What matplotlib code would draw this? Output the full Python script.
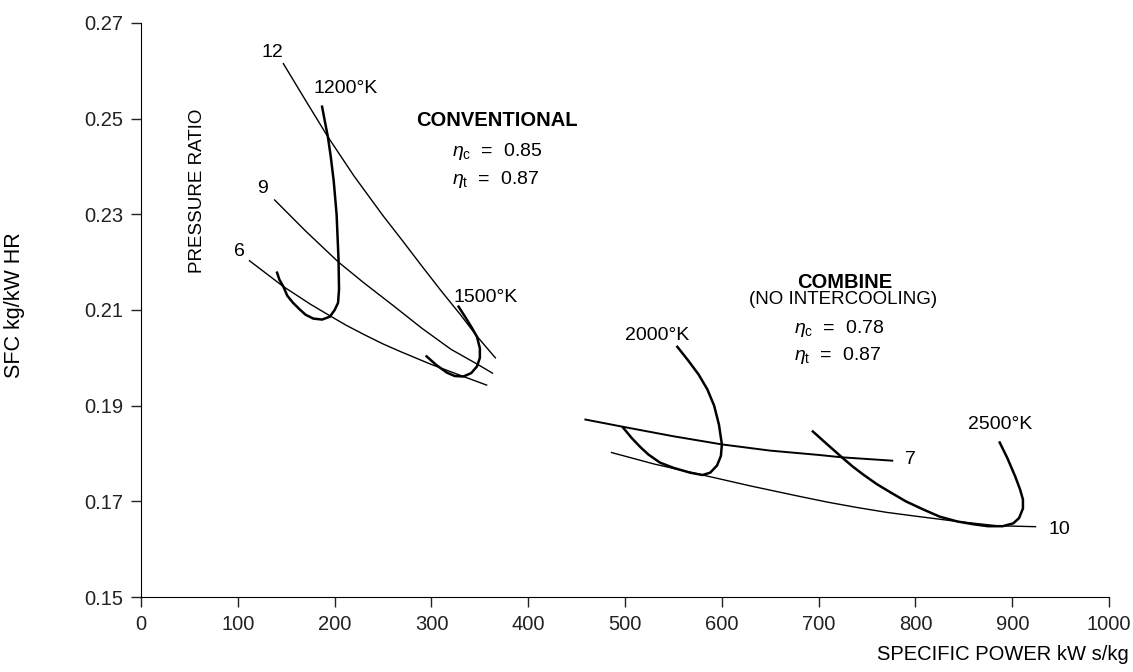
import matplotlib
matplotlib.use('Agg')
import matplotlib.pyplot as plt

plt.rcParams['font.family'] = ['Liberation Sans', 'DejaVu Sans']
plt.rcParams['mathtext.fontset'] = 'custom'
plt.rcParams['mathtext.rm'] = 'Liberation Sans'
plt.rcParams['mathtext.it'] = 'Liberation Sans:italic'

# conventional cycle - pressure ratio lines
pr12_x = [147, 170, 193, 220, 250, 270, 290, 310, 330, 347, 366]
pr12_y = [0.2615, 0.2538, 0.2462, 0.2380, 0.2297, 0.2245, 0.2192, 0.2140, 0.2090, 0.2045, 0.2000]
pr9_x = [138, 170, 204, 230, 260, 290, 320, 348, 363]
pr9_y = [0.2330, 0.2265, 0.2200, 0.2157, 0.2110, 0.2062, 0.2018, 0.1986, 0.1968]
pr6_x = [112, 147, 175, 195, 212, 230, 250, 268, 300, 333, 357]
pr6_y = [0.2203, 0.2149, 0.2112, 0.2088, 0.2068, 0.2049, 0.2029, 0.2013, 0.1986, 0.1961, 0.1943]

# conventional cycle - turbine inlet temperature lines
t1200_x = [187, 190, 193, 196, 199, 202, 204, 204.5, 203.5, 200, 195, 187, 178, 170, 164, 157, 151, 147, 143, 140.5]
t1200_y = [0.2525, 0.2493, 0.2462, 0.2420, 0.2370, 0.2300, 0.2205, 0.2143, 0.2115, 0.2100, 0.2086, 0.2080,
           0.2082, 0.2090, 0.2101, 0.2115, 0.2130, 0.2149, 0.2163, 0.2178]
t1500_x = [328, 335, 342, 347, 350, 350, 347, 341, 333, 324, 316, 305, 295]
t1500_y = [0.2107, 0.2085, 0.2062, 0.2044, 0.2020, 0.2000, 0.1982, 0.1968, 0.1961, 0.1962, 0.1969, 0.1985, 0.2003]

# combined cycle
pr7_x = [459, 500, 550, 600, 650, 700, 724, 776]
pr7_y = [0.1871, 0.1855, 0.1836, 0.1819, 0.1806, 0.1797, 0.1792, 0.1785]
pr10_x = [486, 530, 578, 630, 681, 710, 740, 770, 800, 843, 884, 924]
pr10_y = [0.1802, 0.1778, 0.1756, 0.1732, 0.1710, 0.1698, 0.1687, 0.1677, 0.1669, 0.1658, 0.1649, 0.1647]
t2000_x = [554, 565, 576, 585, 592, 597, 600, 599, 595, 588, 580, 567, 550, 536, 524, 516, 507, 498]
t2000_y = [0.2023, 0.1995, 0.1965, 0.1934, 0.1900, 0.1860, 0.1819, 0.1795, 0.1775, 0.1760, 0.1755, 0.1760,
           0.1770, 0.1781, 0.1798, 0.1813, 0.1832, 0.1854]
t2500_x = [887, 895, 903, 908, 911, 911, 907, 901, 890, 875, 860, 843, 825, 808, 790, 774, 760, 746, 735, 724, 710, 694]
t2500_y = [0.1823, 0.1790, 0.1752, 0.1725, 0.1704, 0.1685, 0.1665, 0.1654, 0.1648, 0.1648, 0.1652, 0.1658,
           0.1668, 0.1683, 0.1700, 0.1719, 0.1736, 0.1756, 0.1773, 0.1792, 0.1817, 0.1846]

x_ticks = [0, 100, 200, 300, 400, 500, 600, 700, 800, 900, 1000]
y_ticks = [0.15, 0.17, 0.19, 0.21, 0.23, 0.25, 0.27]

fig = plt.figure(figsize=(11.33, 6.72), dpi=100)
ax = fig.add_axes([0.1245, 0.1116, 0.8544, 0.8542])

thin = dict(color='black', lw=1.0)
thick = dict(color='black', lw=1.8)

ax.plot(pr12_x, pr12_y, **thin)
ax.plot(pr9_x, pr9_y, **thin)
ax.plot(pr6_x, pr6_y, **thin)
ax.plot(t1200_x, t1200_y, **thick)
ax.plot(t1500_x, t1500_y, **thick)

ax.plot(pr7_x, pr7_y, color='black', lw=1.4)
ax.plot(pr10_x, pr10_y, **thin)
ax.plot(t2000_x, t2000_y, **thick)
ax.plot(t2500_x, t2500_y, **thick)

ax.set_xlim(0, 1000)
ax.set_ylim(0.15, 0.27)
ax.set_xticks(x_ticks)
ax.set_yticks(y_ticks)
ax.set_yticklabels(['%.2f' % v for v in y_ticks])
ax.spines['top'].set_visible(False)
ax.spines['right'].set_visible(False)
ax.tick_params(direction='out', length=7, width=1, labelsize=14.5, colors='#222222', pad=6)

fs = 14
ax.text(136, 0.2639, '12', fontsize=fs, ha='center', va='center')
ax.text(125, 0.2355, '9', fontsize=fs, ha='center', va='center')
ax.text(102, 0.2222, '6', fontsize=fs, ha='center', va='center')
ax.text(178, 0.2564, '1200°K', fontsize=fs, ha='left', va='center')
ax.text(323, 0.2126, '1500°K', fontsize=fs, ha='left', va='center')
ax.text(500, 0.2047, '2000°K', fontsize=fs, ha='left', va='center')
ax.text(854, 0.1861, '2500°K', fontsize=fs, ha='left', va='center')
ax.text(789, 0.1787, '7', fontsize=fs, ha='left', va='center')
ax.text(937, 0.1641, '10', fontsize=fs, ha='left', va='center')

ax.text(58, 0.2349, 'PRESSURE RATIO', fontsize=13.5, rotation=90, ha='center', va='center')

ax.text(368, 0.2497, 'CONVENTIONAL', fontsize=14.5, fontweight='bold', ha='center', va='center')
ax.text(321, 0.2431, r'$\eta_{\rm c}$  =  0.85', fontsize=fs, ha='left', va='center')
ax.text(321, 0.2372, r'$\eta_{\rm t}$  =  0.87', fontsize=fs, ha='left', va='center')

ax.text(727, 0.2157, 'COMBINE', fontsize=14.5, fontweight='bold', ha='center', va='center')
ax.text(725, 0.2122, '(NO INTERCOOLING)', fontsize=13.5, ha='center', va='center')
ax.text(674, 0.2061, r'$\eta_{\rm c}$  =  0.78', fontsize=fs, ha='left', va='center')
ax.text(674, 0.2005, r'$\eta_{\rm t}$  =  0.87', fontsize=fs, ha='left', va='center')

fig.text(15 / 1133, 1 - 305 / 672, 'SFC kg/kW HR', fontsize=15.5, rotation=90, ha='center', va='center')
fig.text(1129 / 1133, 1 - 655 / 672, 'SPECIFIC POWER kW s/kg', fontsize=14.5, ha='right', va='center')

fig.savefig('out.png', dpi=100)
